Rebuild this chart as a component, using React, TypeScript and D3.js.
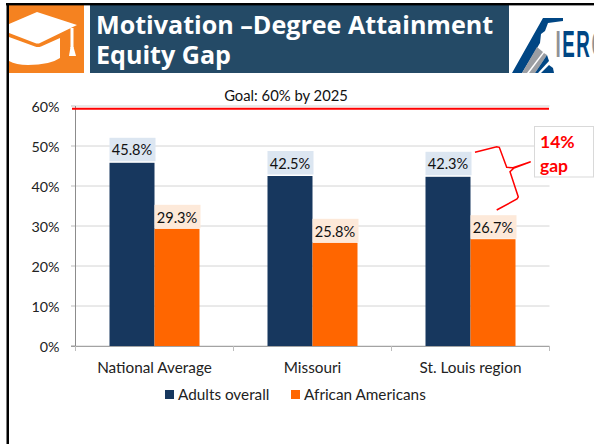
import React from "react";
import * as d3 from "d3";

const categories = ["National Average", "Missouri", "St. Louis region"];
const seriesNames = ["Adults overall", "African Americans"];
const adultsOverall = [45.8, 42.5, 42.3];
const africanAmericans = [29.3, 25.8, 26.7];
const yTicks = [0, 10, 20, 30, 40, 50, 60];
const goal = 60;
const seriesColors = ["#17375e", "#ff6600"];
const labelBg = ["#dce6f1", "#fde9d9"];

const FONT = "Lato, Carlito, sans-serif";
const TITLE_FONT = "'Open Sans', sans-serif";
const LOGO_FONT = "'Liberation Sans', Arial, sans-serif";

const left = 75.5, right = 549.5, top = 106, bottom = 346;
const x = d3.scaleBand<string>().domain(categories).range([left, right]);
const y = d3.scaleLinear().domain([0, 60]).range([bottom, top]);
const barW = 45;

export default function App() {
  const series = [adultsOverall, africanAmericans];
  return (
    <svg width={594} height={444} viewBox="0 0 594 444" style={{ position: "fixed", left: 0, top: 0, background: "#fff" }}>
      {/* header */}
      <rect x={8} y={5} width={76} height={68} fill="#f58220" />
      <rect x={90} y={5} width={419} height={68} fill="#244a66" />
      <path d="M9 24 L37 12 L77 25 L40 43 Q38 44 35 43 L9 33 Z" fill="#fff" />
      <path d="M9 37 L35 46.5 Q38 47.5 41 46.5 L60 38 L60 58 Q50 65 28 65 Q16 65 9 61 Z" fill="#fff" />
      <rect x={70.5} y={28} width={3} height={20} fill="#fff" />
      <path d="M70.5 47 L73.5 47 L76 56 L69 56 Z" fill="#fff" />
      <text x={96} y={34} fill="#fff" fontFamily={TITLE_FONT} fontWeight={700} fontSize={25.1}>Motivation –Degree Attainment</text>
      <text x={96} y={64} fill="#fff" fontFamily={TITLE_FONT} fontWeight={700} fontSize={25.1}>Equity Gap</text>

      {/* logo */}
      <path d="M543 18 L563 18 L563 21 L548 23 L545 31 L541 34 L540 43 L522 73 L512 73 Z" fill="#004684" />
      <path d="M537 47 L543 52 L527 73 L522 73 Z" fill="#9b9ea3" />
      <path d="M544 53 L547 55 L535 73 L529 73 Z" fill="#9b9ea3" />
      <path d="M547 55 L549 61 L538 73 L535 73 Z" fill="#004684" />
      <path d="M549 65 L553 68 L554 73 L541 73 Z" fill="#004684" />
      <text transform="translate(555.5,57) scale(0.52,1)" fontFamily={LOGO_FONT} fontWeight={700} fontSize={36} letterSpacing={3} fill="#004684">
        <tspan fill="#8f9296">I</tspan>
        <tspan>ER</tspan>
        <tspan fill="#8f9296">C</tspan>
      </text>

      {/* slide frame */}
      <rect x={6} y={3} width={588} height={2.4} fill="#000" />
      <rect x={6.5} y={3} width={2.5} height={441} fill="#000" />

      {/* grid and axes */}
      {yTicks.map((t) => (
        <g key={t}>
          {t > 0 && <line x1={left} x2={right} y1={y(t)} y2={y(t)} stroke="#d4d4d4" strokeWidth={1} />}
          <line x1={left - 4.5} x2={left} y1={y(t)} y2={y(t)} stroke="#bdbdbd" />
          <text x={59.5} y={y(t) + 5.5} textAnchor="end" fontFamily={FONT} fontSize={14.3} fill="#222">{t}%</text>
        </g>
      ))}
      <line x1={left} x2={left} y1={top} y2={bottom} stroke="#8c8c8c" />
      <line x1={left - 4.5} x2={right} y1={bottom + 0.3} y2={bottom + 0.3} stroke="#8c8c8c" />
      {[...categories.map((c) => x(c)!), right].map((v, i) => (
        <line key={i} x1={v} x2={v} y1={bottom} y2={bottom + 5} stroke="#bdbdbd" />
      ))}

      {/* bars */}
      {categories.map((c, ci) => {
        const cx = x(c)! + x.bandwidth() / 2;
        return (
          <g key={c}>
            {series.map((vals, si) => {
              const bx = cx - barW + si * barW;
              const by = y(vals[ci]);
              return (
                <g key={si}>
                  <rect x={bx} y={by} width={barW} height={bottom - by} fill={seriesColors[si]} />
                  <rect x={bx} y={by - (si === 0 ? 25 : 24)} width={barW + 1} height={23.5} fill={labelBg[si]} />
                  <text x={bx + barW / 2} y={by - (si === 0 ? 7.5 : 6)} textAnchor="middle" fontFamily={FONT} fontSize={14.6} fill="#111">{vals[ci].toFixed(1)}%</text>
                </g>
              );
            })}
            <text x={cx} y={373} textAnchor="middle" fontFamily={FONT} fontSize={15.3} fill="#222">{c}</text>
          </g>
        );
      })}

      {/* goal */}
      <line x1={72} x2={549} y1={y(goal) + 2.7} y2={y(goal) + 2.7} stroke="#ff0000" strokeWidth={2} />
      <text x={286} y={101} textAnchor="middle" fontFamily={FONT} fontSize={14.8} fill="#111">Goal: {goal}% by 2025</text>

      {/* legend */}
      {seriesNames.map((s, i) => {
        const lx = [165, 291][i];
        return (
          <g key={s}>
            <rect x={lx} y={390} width={9} height={9} fill={seriesColors[i]} />
            <text x={lx + 13} y={400} fontFamily={FONT} fontSize={15.3} fill="#222">{s}</text>
          </g>
        );
      })}

      {/* gap annotation */}
      <rect x={534.5} y={126.5} width={59} height={50.5} fill="#fff" stroke="#d9d9d9" />
      <text x={540} y={148} fontFamily={FONT} fontWeight={700} fontSize={17.5} fill="#ff0000">14%</text>
      <text x={540} y={172} fontFamily={FONT} fontWeight={700} fontSize={17.5} fill="#ff0000">gap</text>
      <path d="M475 152.3 L496.7 146.7 L499.3 147.3 L506.7 167.3 L513 167.7 L530.7 161.7 M530.7 161.7 L514 168 L510 171.7 L518.3 197 L517 199 L496.7 210" fill="none" stroke="#ff0000" strokeWidth={1.5} />
    </svg>
  );
}
